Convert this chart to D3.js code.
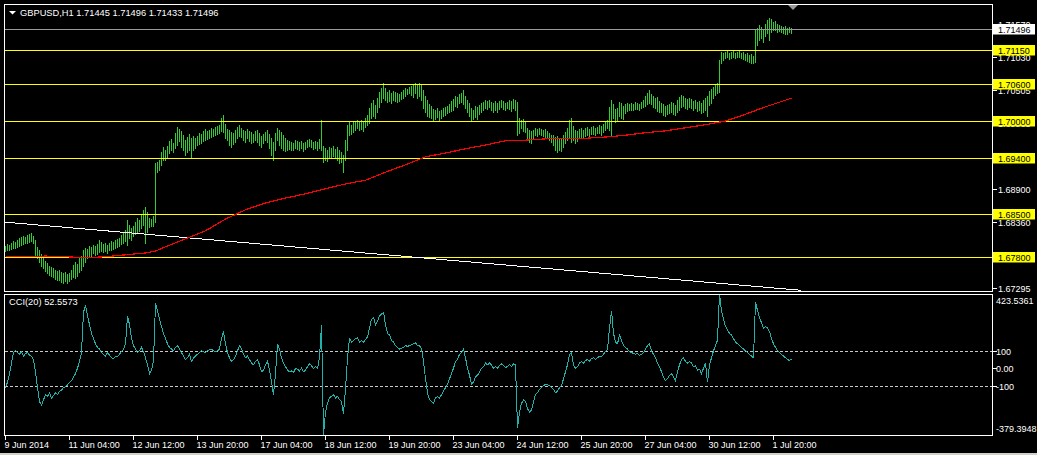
<!DOCTYPE html>
<html><head><meta charset="utf-8">
<script src="https://cdn.jsdelivr.net/npm/d3@7/dist/d3.min.js"></script>
<style>
html,body{margin:0;padding:0;background:#000;overflow:hidden}
svg{display:block}
text{font-family:"Liberation Sans",Arial,sans-serif}
</style>
</head><body>
<svg id="c" width="1037" height="455"></svg>
<script>
// ---------------- DATA ----------------
const symbolTitle = "GBPUSD,H1  1.71445 1.71496 1.71433 1.71496";
const cciTitle = "CCI(20) 52.5573";

const highs = [
1.6797,1.6801,1.6799,1.6802,1.6806,1.6804,1.6807,1.6810,1.6812,1.6814,
1.6812,1.6815,1.6817,1.6819,1.6814,1.6807,1.6796,1.6791,1.6785,1.6778,
1.6773,1.6770,1.6765,1.6763,1.6762,1.6759,1.6757,1.6759,1.6755,1.6754,
1.6755,1.6752,1.6754,1.6759,1.6767,1.6772,1.6768,1.6778,1.6781,1.6791,
1.6794,1.6793,1.6797,1.6796,1.6799,1.6797,1.6801,1.6807,1.6804,1.6801,
1.6802,1.6799,1.6802,1.6806,1.6804,1.6807,1.6809,1.6810,1.6815,1.6820,
1.6823,1.6840,1.6832,1.6827,1.6830,1.6836,1.6843,1.6840,1.6849,1.6856,
1.6861,1.6853,1.6843,1.6841,1.6846,1.6932,1.6934,1.6937,1.6950,1.6958,
1.6953,1.6960,1.6968,1.6971,1.6964,1.6981,1.6990,1.6987,1.6984,1.6977,
1.6969,1.6974,1.6979,1.6972,1.6976,1.6972,1.6976,1.6981,1.6979,1.6984,
1.6987,1.6984,1.6985,1.6989,1.6987,1.6990,1.6992,1.6994,1.7005,1.7010,
1.6995,1.6987,1.6985,1.6982,1.6981,1.6985,1.6990,1.6994,1.6989,1.6985,
1.6984,1.6987,1.6984,1.6982,1.6979,1.6984,1.6985,1.6981,1.6976,1.6979,
1.6982,1.6985,1.6979,1.6972,1.6966,1.6981,1.6989,1.6985,1.6982,1.6977,
1.6972,1.6969,1.6968,1.6966,1.6964,1.6969,1.6968,1.6966,1.6968,1.6964,
1.6966,1.6969,1.6971,1.6969,1.6966,1.6968,1.6966,1.6971,1.7002,1.6960,
1.6956,1.6953,1.6958,1.6956,1.6960,1.6955,1.6958,1.6953,1.6950,1.6945,
1.6969,1.6994,1.6998,1.6994,1.6998,1.7000,1.7002,1.6998,1.7002,1.7000,
1.7005,1.7010,1.7021,1.7029,1.7034,1.7026,1.7037,1.7047,1.7053,1.7062,
1.7053,1.7047,1.7050,1.7045,1.7049,1.7047,1.7045,1.7044,1.7047,1.7050,
1.7053,1.7052,1.7055,1.7057,1.7060,1.7062,1.7060,1.7062,1.7060,1.7050,
1.7041,1.7034,1.7028,1.7024,1.7019,1.7018,1.7021,1.7016,1.7018,1.7021,
1.7023,1.7024,1.7028,1.7032,1.7036,1.7041,1.7039,1.7044,1.7045,1.7050,
1.7041,1.7034,1.7029,1.7021,1.7018,1.7024,1.7023,1.7026,1.7029,1.7031,
1.7034,1.7032,1.7034,1.7031,1.7029,1.7032,1.7029,1.7032,1.7034,1.7032,
1.7029,1.7031,1.7034,1.7032,1.7036,1.7034,1.7031,1.7005,1.7002,1.7003,
1.6998,1.6989,1.6985,1.6984,1.6985,1.6989,1.6987,1.6989,1.6987,1.6985,
1.6987,1.6984,1.6981,1.6977,1.6977,1.6974,1.6976,1.6972,1.6971,1.6977,
1.6982,1.6989,1.7002,1.7005,1.6992,1.6985,1.6984,1.6987,1.6989,1.6985,
1.6989,1.6990,1.6987,1.6990,1.6992,1.6989,1.6990,1.6994,1.6992,1.6995,
1.6998,1.7002,1.7023,1.7034,1.7028,1.7019,1.7021,1.7031,1.7029,1.7024,
1.7028,1.7029,1.7028,1.7029,1.7028,1.7031,1.7029,1.7028,1.7031,1.7034,
1.7041,1.7045,1.7050,1.7044,1.7041,1.7037,1.7039,1.7032,1.7029,1.7028,
1.7024,1.7026,1.7028,1.7031,1.7029,1.7026,1.7034,1.7039,1.7042,1.7041,
1.7037,1.7036,1.7037,1.7036,1.7032,1.7034,1.7031,1.7032,1.7029,1.7034,
1.7037,1.7041,1.7049,1.7052,1.7055,1.7058,1.7062,1.7099,1.7112,1.7110,
1.7112,1.7113,1.7110,1.7112,1.7115,1.7110,1.7112,1.7113,1.7110,1.7112,
1.7109,1.7110,1.7107,1.7109,1.7105,1.7147,1.7151,1.7156,1.7152,1.7147,
1.7157,1.7164,1.7167,1.7165,1.7160,1.7162,1.7157,1.7156,1.7154,1.7152,
1.7154,1.7151,1.7152,1.7150];

const lows = [
1.6789,1.6791,1.6791,1.6793,1.6794,1.6794,1.6796,1.6797,1.6799,1.6801,
1.6802,1.6802,1.6804,1.6806,1.6802,1.6780,1.6778,1.6772,1.6765,1.6762,
1.6757,1.6754,1.6751,1.6749,1.6747,1.6744,1.6742,1.6742,1.6739,1.6738,
1.6741,1.6738,1.6741,1.6744,1.6747,1.6746,1.6749,1.6755,1.6759,1.6765,
1.6772,1.6778,1.6780,1.6781,1.6786,1.6783,1.6785,1.6788,1.6789,1.6788,
1.6789,1.6786,1.6791,1.6791,1.6793,1.6794,1.6796,1.6797,1.6801,1.6802,
1.6806,1.6799,1.6810,1.6807,1.6814,1.6817,1.6820,1.6822,1.6827,1.6832,
1.6802,1.6820,1.6828,1.6830,1.6830,1.6836,1.6917,1.6921,1.6929,1.6937,
1.6937,1.6940,1.6948,1.6953,1.6950,1.6956,1.6961,1.6968,1.6958,1.6953,
1.6945,1.6950,1.6953,1.6940,1.6953,1.6956,1.6961,1.6963,1.6964,1.6968,
1.6969,1.6971,1.6972,1.6974,1.6976,1.6977,1.6979,1.6981,1.6984,1.6982,
1.6972,1.6969,1.6961,1.6958,1.6963,1.6966,1.6972,1.6976,1.6974,1.6969,
1.6966,1.6972,1.6968,1.6964,1.6966,1.6969,1.6966,1.6961,1.6958,1.6964,
1.6969,1.6966,1.6956,1.6945,1.6937,1.6953,1.6969,1.6961,1.6956,1.6953,
1.6951,1.6953,1.6955,1.6953,1.6953,1.6956,1.6955,1.6953,1.6956,1.6951,
1.6955,1.6958,1.6960,1.6958,1.6955,1.6956,1.6953,1.6956,1.6953,1.6934,
1.6937,1.6935,1.6940,1.6942,1.6943,1.6940,1.6937,1.6932,1.6934,1.6917,
1.6937,1.6953,1.6977,1.6979,1.6982,1.6985,1.6989,1.6985,1.6987,1.6984,
1.6990,1.6994,1.6997,1.7005,1.7008,1.7005,1.7015,1.7023,1.7031,1.7037,
1.7034,1.7031,1.7032,1.7029,1.7034,1.7032,1.7031,1.7032,1.7036,1.7037,
1.7041,1.7044,1.7045,1.7042,1.7039,1.7045,1.7037,1.7041,1.7034,1.7021,
1.7015,1.7008,1.7006,1.7005,1.7002,1.7003,1.7006,1.7002,1.7005,1.7008,
1.7010,1.7013,1.7015,1.7016,1.7018,1.7024,1.7023,1.7029,1.7031,1.7028,
1.7021,1.7015,1.7008,1.7002,1.7003,1.7006,1.7003,1.7011,1.7015,1.7018,
1.7021,1.7019,1.7023,1.7018,1.7015,1.7018,1.7015,1.7019,1.7023,1.7019,
1.7018,1.7021,1.7019,1.7016,1.7021,1.7018,1.6977,1.6981,1.6989,1.6984,
1.6982,1.6972,1.6966,1.6964,1.6972,1.6977,1.6976,1.6979,1.6977,1.6976,
1.6974,1.6972,1.6969,1.6966,1.6961,1.6953,1.6950,1.6953,1.6951,1.6958,
1.6964,1.6969,1.6972,1.6966,1.6969,1.6964,1.6968,1.6974,1.6974,1.6972,
1.6976,1.6977,1.6976,1.6979,1.6979,1.6977,1.6981,1.6981,1.6977,1.6982,
1.6985,1.6989,1.6985,1.6976,1.7005,1.6998,1.7000,1.7008,1.7005,1.7003,
1.7013,1.7016,1.7018,1.7018,1.7018,1.7019,1.7019,1.7018,1.7021,1.7023,
1.7024,1.7028,1.7029,1.7028,1.7023,1.7021,1.7016,1.7015,1.7015,1.7010,
1.7008,1.7011,1.7013,1.7015,1.7011,1.7010,1.7015,1.7018,1.7023,1.7024,
1.7021,1.7019,1.7023,1.7021,1.7018,1.7021,1.7016,1.7018,1.7013,1.7015,
1.7018,1.7008,1.7026,1.7029,1.7037,1.7042,1.7045,1.7047,1.7094,1.7099,
1.7102,1.7104,1.7100,1.7102,1.7104,1.7102,1.7104,1.7104,1.7102,1.7100,
1.7099,1.7097,1.7096,1.7094,1.7094,1.7096,1.7123,1.7131,1.7134,1.7128,
1.7138,1.7143,1.7131,1.7144,1.7147,1.7147,1.7144,1.7146,1.7144,1.7143,
1.7141,1.7141,1.7144,1.7143];

const cciValues = [
-110,-80,-30,30,90,100,90,80,95,70,
85,90,75,70,50,-20,-110,-190,-210,-180,
-150,-160,-140,-170,-155,-140,-150,-130,-125,-110,
-105,-95,-80,-70,-50,-30,0,40,90,320,
360,300,250,200,170,140,120,110,90,80,
70,90,75,60,55,70,65,80,95,110,
140,300,250,170,130,110,90,100,120,95,
60,20,-30,-10,40,370,330,280,240,200,
170,140,120,110,100,120,130,110,90,70,
50,60,80,40,60,70,80,90,100,95,
90,100,105,110,100,95,100,110,170,210,
140,90,60,40,50,70,100,130,110,80,
60,70,50,30,20,40,50,20,-20,-10,
20,40,-10,-80,-150,-30,140,110,60,30,
10,-10,-20,-15,-25,0,-5,-15,0,-20,
-10,10,25,15,0,10,0,60,250,-379.3948,
-250,-200,-170,-160,-150,-170,-160,-180,-190,-260,
-120,60,170,150,160,170,175,150,160,150,
165,180,230,280,290,250,270,300,310,320,
250,200,190,160,150,130,120,110,115,120,
130,125,130,135,140,145,130,130,110,40,
-60,-140,-180,-190,-200,-170,-160,-170,-150,-130,
-110,-90,-60,-30,0,40,50,80,90,110,
60,0,-40,-90,-80,-50,-40,-20,0,10,
30,20,30,20,0,10,0,15,25,15,
5,10,20,10,25,20,-340,-250,-200,-180,
-190,-230,-250,-240,-190,-150,-140,-120,-110,-100,
-90,-95,-100,-110,-120,-140,-130,-110,-100,-60,
-20,20,80,90,20,0,10,30,40,30,
45,50,40,55,60,50,60,70,65,80,
95,110,230,330,200,150,140,190,160,130,
120,110,95,90,85,80,85,75,80,90,
110,130,140,100,80,60,30,10,-20,-50,
-70,-60,-40,-30,-50,-70,-20,20,50,60,
40,30,40,30,10,15,-10,-5,-30,0,
30,-80,20,60,100,130,160,423.5361,330,280,
240,220,200,190,170,150,140,130,120,110,
100,90,80,70,60,380,330,290,260,230,
240,230,210,170,140,120,100,90,80,70,
60,50,45,52.5573];

// moving average (red), read at sampled bars
const maIndex = [0,10,20,30,40,50,60,70,75,80,90,100,110,120,130,140,150,160,170,180,190,200,210,220,230,240,250,260,270,280,290,300,310,320,330,340,350,360,370,380,393];
const maValues = [1.6780,1.6780,1.6781,1.6780,1.6778,1.6780,1.6783,1.6786,1.6789,1.6796,1.6809,1.6822,1.6841,1.6856,1.6867,1.6875,1.6882,1.6890,1.6898,1.6904,1.6917,1.6929,1.6942,1.6948,1.6955,1.6961,1.6968,1.6969,1.6971,1.6972,1.6972,1.6974,1.6977,1.6981,1.6984,1.6989,1.6994,1.7000,1.7011,1.7023,1.7037];

// horizontal line objects
const levelPrices = [1.71150,1.70600,1.70000,1.69400,1.68500,1.67800];
const levelLabels = ["1.71150","1.70600","1.70000","1.69400","1.68500","1.67800"];
const bidPrice = 1.71496;
const bidLabel = "1.71496";

// trend line object (bar index, price)
const trendIndex = [0,398];
const trendPrice = [1.6836,1.67255];

// price axis labels
const priceTicks = [1.71570,1.71030,1.70505,1.69965,1.69420,1.68900,1.68360,1.67830,1.67295];
const priceTickLabels = ["1.71570","1.71030","1.70505","1.69965","1.69420","1.68900","1.68360","1.67830","1.67295"];

// CCI pane
const cciLevels = [100,-100];
const cciTicks = [100,0,-100];
const cciTickLabels = ["100","0.00","-100"];
const cciMax = 423.5361, cciMin = -379.3948;
const cciMaxLabel = "423.5361", cciMinLabel = "-379.3948";

// time axis
const timeTickIndex = [0,32,64,96,128,160,192,224,256,288,320,352,384];
const timeLabels = ["9 Jun 2014","11 Jun 04:00","12 Jun 12:00","13 Jun 20:00","17 Jun 04:00","18 Jun 12:00","19 Jun 20:00","23 Jun 04:00","24 Jun 12:00","25 Jun 20:00","27 Jun 04:00","30 Jun 12:00","1 Jul 20:00"];

// ---------------- LAYOUT ----------------
const W = 1037, H = 455;
const L = 4.5, R = 992.5;
const mainTop = 4.5, mainBot = 291.5;
const cciTop = 294.5, cciBot = 435.5;
const nBars = highs.length;

const svg = d3.select("#c");
svg.append("rect").attr("width", W).attr("height", H).attr("fill", "#000");

const x = d3.scaleLinear().domain([0, 1]).range([5, 7]);
const yP = d3.scaleLinear().domain([1.672434, 1.718972]).range([291, 4]);
const yC = d3.scaleLinear().domain([cciMin, cciMax]).range([434.7, 294.2]);

const defs = svg.append("defs");
defs.append("clipPath").attr("id", "clipMain").append("rect")
  .attr("x", 5).attr("y", 5).attr("width", R - 5).attr("height", mainBot - 5);
defs.append("clipPath").attr("id", "clipCci").append("rect")
  .attr("x", 5).attr("y", cciTop + 0.5).attr("width", R - 5).attr("height", cciBot - cciTop - 1);

// ---- main pane ----
const gMain = svg.append("g").attr("clip-path", "url(#clipMain)");

// bars
gMain.append("g").selectAll("rect").data(d3.range(nBars)).join("rect")
  .attr("x", i => Math.round(x(i)))
  .attr("y", i => Math.round(yP(highs[i])))
  .attr("width", 1)
  .attr("height", i => Math.max(1, Math.round(yP(lows[i])) - Math.round(yP(highs[i])) + 1))
  .attr("fill", "#33cc33")
  .attr("shape-rendering", "crispEdges");

// horizontal levels
gMain.append("g").selectAll("line").data(levelPrices).join("line")
  .attr("x1", 5).attr("x2", R)
  .attr("y1", d => Math.round(yP(d)) + 0.5).attr("y2", d => Math.round(yP(d)) + 0.5)
  .attr("stroke", "#ffff00").attr("stroke-width", 1).attr("shape-rendering", "crispEdges");

// bid line
gMain.append("line").attr("x1", 5).attr("x2", R)
  .attr("y1", Math.round(yP(bidPrice)) + 0.5).attr("y2", Math.round(yP(bidPrice)) + 0.5)
  .attr("stroke", "#9a9a9a").attr("shape-rendering", "crispEdges");

// trend line
gMain.append("line")
  .attr("x1", x(trendIndex[0])).attr("y1", yP(trendPrice[0]))
  .attr("x2", x(trendIndex[1])).attr("y2", yP(trendPrice[1]))
  .attr("stroke", "#ffffff").attr("stroke-width", 1).attr("shape-rendering", "crispEdges");

// moving average
const maLine = d3.line().x((d, k) => x(maIndex[k]) + 0.5).y(d => yP(d));
gMain.append("path").attr("d", maLine(maValues))
  .attr("fill", "none").attr("stroke", "#ff0000").attr("stroke-width", 1.2)
  .attr("shape-rendering", "crispEdges");

// chart shift marker
svg.append("path").attr("d", "M787,4 L799,4 L793,10 Z").attr("fill", "#9a9a9a");

// ---- CCI pane ----
const gCci = svg.append("g").attr("clip-path", "url(#clipCci)");
gCci.append("g").selectAll("line").data(cciLevels).join("line")
  .attr("x1", 5).attr("x2", R)
  .attr("y1", d => Math.round(yC(d)) + 0.5).attr("y2", d => Math.round(yC(d)) + 0.5)
  .attr("stroke", "#c8c8c8").attr("stroke-dasharray", "3,2").attr("shape-rendering", "crispEdges");
const cciLine = d3.line().x((d, i) => x(i) + 0.5).y(d => yC(d));
gCci.append("path").attr("d", cciLine(cciValues))
  .attr("fill", "none").attr("stroke", "#20b2aa").attr("stroke-width", 1)
  .attr("shape-rendering", "crispEdges");

// ---- frames ----
svg.append("rect").attr("x", L).attr("y", mainTop).attr("width", R - L).attr("height", mainBot - mainTop)
  .attr("fill", "none").attr("stroke", "#ffffff").attr("shape-rendering", "crispEdges");
svg.append("rect").attr("x", L).attr("y", cciTop).attr("width", R - L).attr("height", cciBot - cciTop)
  .attr("fill", "none").attr("stroke", "#ffffff").attr("shape-rendering", "crispEdges");

// ---- titles ----
svg.append("path").attr("d", "M9,11 L16,11 L12.5,14.5 Z").attr("fill", "#ffffff");
svg.append("text").attr("x", 20).attr("y", 16).attr("fill", "#ffffff")
  .attr("font-size", "9.3px").text(symbolTitle);
svg.append("text").attr("x", 9).attr("y", 305).attr("fill", "#ffffff")
  .attr("font-size", "9.3px").text(cciTitle);

// ---- price axis ----
const gAx = svg.append("g");
priceTicks.forEach((p, k) => {
  const yy = Math.round(yP(p)) + 0.5;
  gAx.append("line").attr("x1", R).attr("x2", R + 4).attr("y1", yy).attr("y2", yy)
    .attr("stroke", "#fff").attr("shape-rendering", "crispEdges");
  gAx.append("text").attr("x", 998).attr("y", yy + 3.3).attr("fill", "#fff")
    .attr("font-size", "9px").text(priceTickLabels[k]);
});
levelPrices.forEach((p, k) => {
  const yy = Math.round(yP(p)) + 0.5;
  gAx.append("rect").attr("x", 993).attr("y", yy - 5.5).attr("width", 42).attr("height", 10.5)
    .attr("fill", "#ffff00");
  gAx.append("text").attr("x", 998).attr("y", yy + 3.3).attr("fill", "#000")
    .attr("font-size", "9px").text(levelLabels[k]);
});
{
  const yy = Math.round(yP(bidPrice)) + 0.5;
  gAx.append("rect").attr("x", 993).attr("y", yy - 5.5).attr("width", 42).attr("height", 10.5)
    .attr("fill", "#ffffff");
  gAx.append("text").attr("x", 998).attr("y", yy + 3.3).attr("fill", "#000")
    .attr("font-size", "9px").text(bidLabel);
}

// ---- CCI axis ----
cciTicks.forEach((v, k) => {
  const yy = Math.round(yC(v)) + 0.5;
  gAx.append("line").attr("x1", R).attr("x2", R + 4).attr("y1", yy).attr("y2", yy)
    .attr("stroke", "#fff").attr("shape-rendering", "crispEdges");
  gAx.append("text").attr("x", 996).attr("y", yy + 3.3).attr("fill", "#fff")
    .attr("font-size", "9px").text(cciTickLabels[k]);
});
gAx.append("text").attr("x", 996).attr("y", 303.5).attr("fill", "#fff").attr("font-size", "9px").text(cciMaxLabel);
gAx.append("text").attr("x", 996).attr("y", 431.5).attr("fill", "#fff").attr("font-size", "9px").text(cciMinLabel);

// ---- time axis ----
timeTickIndex.forEach((t, k) => {
  const xx = Math.round(x(t)) + 0.5;
  gAx.append("line").attr("x1", xx).attr("x2", xx).attr("y1", cciBot).attr("y2", cciBot + 4)
    .attr("stroke", "#fff").attr("shape-rendering", "crispEdges");
  gAx.append("text").attr("x", xx - 1).attr("y", 447.5).attr("fill", "#fff")
    .attr("font-size", "9px").text(timeLabels[k]);
});

// bottom strip
svg.append("rect").attr("x", 0).attr("y", 453).attr("width", W).attr("height", 2).attr("fill", "#d4d0c8");
</script>
</body></html>
